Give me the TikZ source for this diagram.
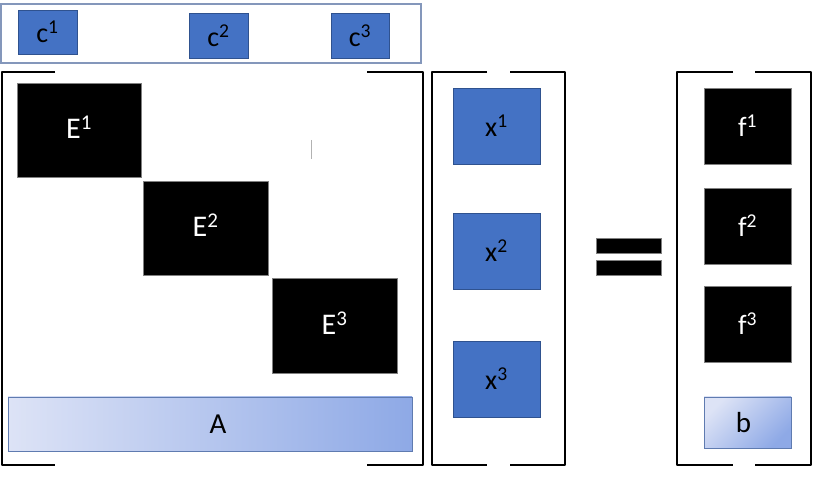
\documentclass[tikz,border=0pt]{standalone}
\usepackage{fontspec}
\setmainfont{Carlito}
\usetikzlibrary{positioning}
\definecolor{blkblue}{RGB}{68,114,196}
\definecolor{blkedge}{RGB}{47,82,143}
\definecolor{topedge}{RGB}{132,151,187}
\definecolor{shdlight}{RGB}{221,227,246}
\definecolor{shddark}{RGB}{142,169,230}
\definecolor{shdedge}{RGB}{95,123,176}

\begin{document}
\begin{tikzpicture}[x=1pt,y=-1pt,
        bluebox/.style={draw=blkedge, fill=blkblue, line width=0.8pt, inner sep=0pt,
          minimum width=87pt, minimum height=76pt, font=\fontsize{28}{30}\selectfont},
        blackbox/.style={draw=gray, fill=black, text=white, line width=0.8pt, inner sep=0pt,
          minimum width=87pt, minimum height=76pt, font=\fontsize{28}{30}\selectfont},
        shadebox/.style={draw=shdedge, line width=0.8pt, inner sep=0pt,
          font=\fontsize{29}{31}\selectfont},
        bracket/.style={line width=1.8pt, line join=round}
      ]
      \useasboundingbox (0,0) rectangle (817,478);
      % top row of c blocks
      \node[draw=topedge, line width=1.4pt, minimum width=420pt, minimum height=59pt,
        inner sep=0pt] (crow) at (211,33.5) {};
      \node[bluebox, minimum width=59pt, minimum height=44pt] (c1) at (47.5,32) {c\textsuperscript{1}};
      \node[bluebox, minimum width=59pt, minimum height=45pt] (c2) at (218.5,35.5) {c\textsuperscript{2}};
      \node[bluebox, minimum width=58pt, minimum height=45pt] (c3) at (360,35.5) {c\textsuperscript{3}};
      % block diagonal matrix
      \node[blackbox, minimum width=124pt, minimum height=94pt, font=\fontsize{30}{32}\selectfont] (E1) at (79,130) {E\textsuperscript{1}\vphantom{g}};
      \node[blackbox, minimum width=125pt, minimum height=94pt, font=\fontsize{30}{32}\selectfont] (E2) at (205.5,228) {E\textsuperscript{2}\vphantom{g}};
      \node[blackbox, minimum width=125pt, minimum height=95pt, font=\fontsize{30}{32}\selectfont] (E3) at (334.5,325.5) {E\textsuperscript{3}\vphantom{g}};
      \draw[gray!60, line width=0.8pt] (311,140) -- (311,159);
      \node[shadebox, left color=shdlight, right color=shddark,
        minimum width=404pt, minimum height=54pt] (A) at (210,424) {\hspace*{16pt}A};
      \draw[bracket] (55,72) -- (2,72) -- (2,465) -- (55,465);
      \draw[bracket] (367,72) -- (423,72) -- (423,465) -- (367,465);
      % unknowns
      \node[bluebox] (x1) at (496.5,126) {x\textsuperscript{1}};
      \node[bluebox] (x2) at (496.5,251) {x\textsuperscript{2}};
      \node[bluebox] (x3) at (496.5,379) {x\textsuperscript{3}};
      \draw[bracket] (487,72) -- (432,72) -- (432,465) -- (487,465);
      \draw[bracket] (510,72) -- (565,72) -- (565,465) -- (510,465);
      % equals sign
      \node[draw=gray, fill=black, inner sep=0pt, minimum width=65pt, minimum height=15pt] (eqtop) at (628.5,245.5) {};
      \node[draw=gray, fill=black, inner sep=0pt, minimum width=65pt, minimum height=15pt] (eqbot) at (628.5,267.5) {};
      % right hand side
      \node[blackbox] (f1) at (747.5,126) {f\textsuperscript{1}};
      \node[blackbox] (f2) at (747.5,226) {f\textsuperscript{2}};
      \node[blackbox] (f3) at (747.5,324) {f\textsuperscript{3}};
      \node[shadebox, top color=shdlight, bottom color=shddark, shading angle=45,
        minimum width=87pt, minimum height=51pt] (b) at (747.5,422.5) {b\hspace*{8pt}};
      \draw[bracket] (733,72) -- (677,72) -- (677,465) -- (733,465);
      \draw[bracket] (755,72) -- (811,72) -- (811,465) -- (755,465);
    \end{tikzpicture}
\end{document}
